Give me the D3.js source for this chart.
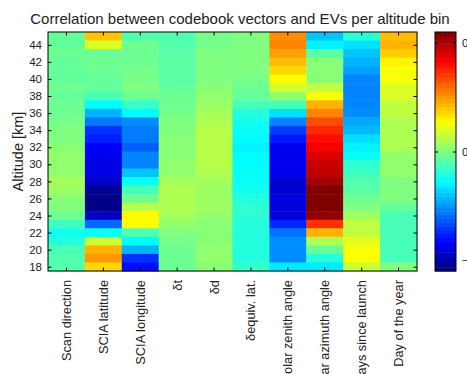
<!DOCTYPE html>
<html>
<head>
<meta charset="utf-8">
<script src="https://cdn.jsdelivr.net/npm/d3@7"></script>
<style>
  body { margin: 0; background: #fff; }
  svg { display: block; font-family: "Liberation Sans", Arial, sans-serif; }
</style>
</head>
<body>
<div id="root"></div>
<script>
// parameters (columns) and altitude bins
const parameters = ["Scan direction", "SCIA latitude", "SCIA longitude", "\u03b4t", "\u03b4d",
  "\u03b4equiv. lat.", "Solar zenith angle", "Solar azimuth angle", "Days since launch", "Day of the year"]
const altitudes = d3.range(45, 17, -1)   // 45 ... 18, top row first
const altTicks = d3.range(18, 45, 2)
const cbarTicks = [-0.5, 0, 0.5]

// correlation per column, from 45 km down to 18 km
const scanDirection = [-0.03,-0.03,-0.02,-0.03,-0.03,-0.03,-0.02,-0.03,-0.02,-0.02,-0.01,0,0,0.01,0.02,0.02,0.02,0.04,0.03,0.01,0,-0.02,-0.07,-0.12,-0.1,-0.06,-0.05,-0.05]
const sciaLatitude = [0.2,0.1,-0.02,-0.02,-0.02,-0.03,-0.03,-0.06,-0.14,-0.22,-0.28,-0.36,-0.38,-0.42,-0.43,-0.44,-0.44,-0.47,-0.53,-0.54,-0.54,-0.48,-0.3,-0.13,0.08,0.22,0.25,0.18]
const sciaLongitude = [-0.05,-0.02,-0.02,-0.02,-0.01,-0.01,0,-0.02,-0.08,-0.14,-0.26,-0.28,-0.28,-0.31,-0.27,-0.27,-0.2,-0.13,-0.06,-0.02,0.06,0.14,0.14,-0.05,-0.14,-0.22,-0.36,-0.4]
const deltaT = [-0.05,-0.05,-0.04,-0.04,-0.04,-0.04,-0.03,-0.02,-0.02,-0.01,0,0,0.01,0.01,0.01,0.02,0.02,0.04,0.05,0.05,0.05,0.04,0.02,0,-0.01,-0.02,-0.02,-0.02]
const deltaD = [-0.01,-0.01,0,0,0,0,0.01,0.02,0.03,0.04,0.05,0.06,0.06,0.06,0.06,0.06,0.05,0.04,0.03,0.03,0.03,0.02,0.01,0.01,0.01,0.02,0.02,0.01]
const deltaEquivLat = [0,0,0,0,0,-0.01,-0.02,-0.03,-0.06,-0.1,-0.12,-0.13,-0.14,-0.15,-0.14,-0.14,-0.13,-0.13,-0.12,-0.1,-0.09,-0.09,-0.1,-0.1,-0.1,-0.1,-0.1,-0.08]
const solarZenith = [0.26,0.27,0.24,0.21,0.18,0.14,0.09,0.02,-0.06,-0.17,-0.27,-0.35,-0.39,-0.43,-0.43,-0.43,-0.43,-0.46,-0.46,-0.45,-0.45,-0.45,-0.37,-0.29,-0.26,-0.26,-0.26,-0.16]
const solarAzimuth = [-0.2,-0.15,-0.04,0.01,0.01,0.01,0.07,0.13,0.22,0.27,0.33,0.37,0.4,0.42,0.45,0.47,0.48,0.51,0.55,0.55,0.55,0.53,0.36,0.22,0.05,-0.03,-0.1,-0.16]
const daysSinceLaunch = [-0.09,-0.17,-0.2,-0.22,-0.24,-0.27,-0.27,-0.27,-0.27,-0.26,-0.23,-0.21,-0.17,-0.15,-0.13,-0.09,-0.07,-0.05,-0.04,-0.02,0,0.03,0.07,0.07,0.11,0.13,0.14,0.08]
const dayOfYear = [0.21,0.22,0.19,0.15,0.13,0.13,0.1,0.1,0.07,0.07,0.05,0.05,0.05,0.05,0.02,0.02,0.02,0,0,0,-0.03,-0.06,-0.06,-0.06,-0.06,-0.06,-0.06,0]

const columns = [scanDirection, sciaLatitude, sciaLongitude, deltaT, deltaD,
  deltaEquivLat, solarZenith, solarAzimuth, daysSinceLaunch, dayOfYear]

const width = 467, height = 374
const plot = {left: 48, right: 417, top: 32, bottom: 271}
const cbar = {left: 435, right: 456}
const cmax = 0.55

// matlab style jet
function jet(t) {
  const c = v => Math.round(255 * Math.max(0, Math.min(1, v)))
  return d3.rgb(c(1.5 - Math.abs(4 * t - 3)), c(1.5 - Math.abs(4 * t - 2)), c(1.5 - Math.abs(4 * t - 1)))
}
const color = v => jet((v + cmax) / (2 * cmax))

const svg = d3.select("#root").append("svg")
  .attr("width", width)
  .attr("height", height)

const x = d3.scaleBand().domain(parameters).range([plot.left, plot.right])
const y = d3.scaleLinear().domain([17.5, 45.5]).range([plot.bottom, plot.top])

// cells
const cells = []
columns.forEach((col, i) => {
  col.forEach((v, j) => cells.push({param: parameters[i], alt: altitudes[j], value: v}))
})
svg.append("g").selectAll("rect")
  .data(cells)
  .join("rect")
  .attr("x", d => x(d.param))
  .attr("y", d => y(d.alt + 0.5))
  .attr("width", x.bandwidth() + 0.5)
  .attr("height", (y(0) - y(1)) + 0.5)
  .attr("fill", d => color(d.value))

// axes, ticks pointing inwards like matlab
const styleAxis = g => {
  g.select(".domain").remove()
  g.selectAll(".tick line").attr("stroke", "#000")
  g.selectAll("text").attr("fill", "#222").style("font-size", "11.5px")
}
svg.append("g")
  .attr("transform", `translate(${plot.left},0)`)
  .call(d3.axisLeft(y).tickValues(altTicks).tickSizeInner(-3.5).tickPadding(6))
  .call(styleAxis)
svg.append("g")
  .attr("transform", `translate(${plot.right},0)`)
  .call(d3.axisRight(y).tickValues(altTicks).tickSizeInner(-3.5).tickFormat(""))
  .call(styleAxis)
svg.append("g")
  .attr("transform", `translate(0,${plot.top})`)
  .call(d3.axisTop(x).tickSizeInner(-3.5).tickFormat(""))
  .call(styleAxis)
const xb = svg.append("g")
  .attr("transform", `translate(0,${plot.bottom})`)
  .call(d3.axisBottom(x).tickSizeInner(-3.5).tickPadding(0))
  .call(styleAxis)
xb.selectAll("text")
  .style("font-size", "12.8px")
  .attr("text-anchor", "end")
  .attr("dy", "0.35em")
  .attr("transform", "translate(0,9) rotate(-90)")
  .attr("y", 0)
  .attr("x", 0)

svg.append("rect")
  .attr("x", plot.left).attr("y", plot.top)
  .attr("width", plot.right - plot.left).attr("height", plot.bottom - plot.top)
  .attr("fill", "none").attr("stroke", "#000").attr("stroke-width", 1)

// labels
svg.append("text")
  .attr("x", 240).attr("y", 24)
  .attr("text-anchor", "middle")
  .attr("fill", "#222")
  .style("font-size", "15px")
  .text("Correlation between codebook vectors and EVs per altitude bin")
svg.append("text")
  .attr("transform", `translate(23,${(plot.top + plot.bottom) / 2}) rotate(-90)`)
  .attr("text-anchor", "middle")
  .attr("fill", "#222")
  .style("font-size", "14.5px")
  .text("Altitude [km]")

// colorbar
const cy = d3.scaleLinear().domain([-cmax, cmax]).range([plot.bottom, plot.top])
const steps = d3.range(0, 64)
svg.append("g").selectAll("rect")
  .data(steps)
  .join("rect")
  .attr("x", cbar.left)
  .attr("y", d => cy(-cmax + (d + 1) * 2 * cmax / 64))
  .attr("width", cbar.right - cbar.left)
  .attr("height", (plot.bottom - plot.top) / 64 + 0.5)
  .attr("fill", d => jet((d + 0.5) / 64))
svg.append("g")
  .attr("transform", `translate(${cbar.right},0)`)
  .call(d3.axisRight(cy).tickValues(cbarTicks).tickSizeInner(-3).tickPadding(6))
  .call(styleAxis)
svg.append("g")
  .attr("transform", `translate(${cbar.left},0)`)
  .call(d3.axisLeft(cy).tickValues(cbarTicks).tickSizeInner(-3).tickFormat(""))
  .call(styleAxis)
svg.append("rect")
  .attr("x", cbar.left).attr("y", plot.top)
  .attr("width", cbar.right - cbar.left).attr("height", plot.bottom - plot.top)
  .attr("fill", "none").attr("stroke", "#000")
</script>
</body>
</html>
